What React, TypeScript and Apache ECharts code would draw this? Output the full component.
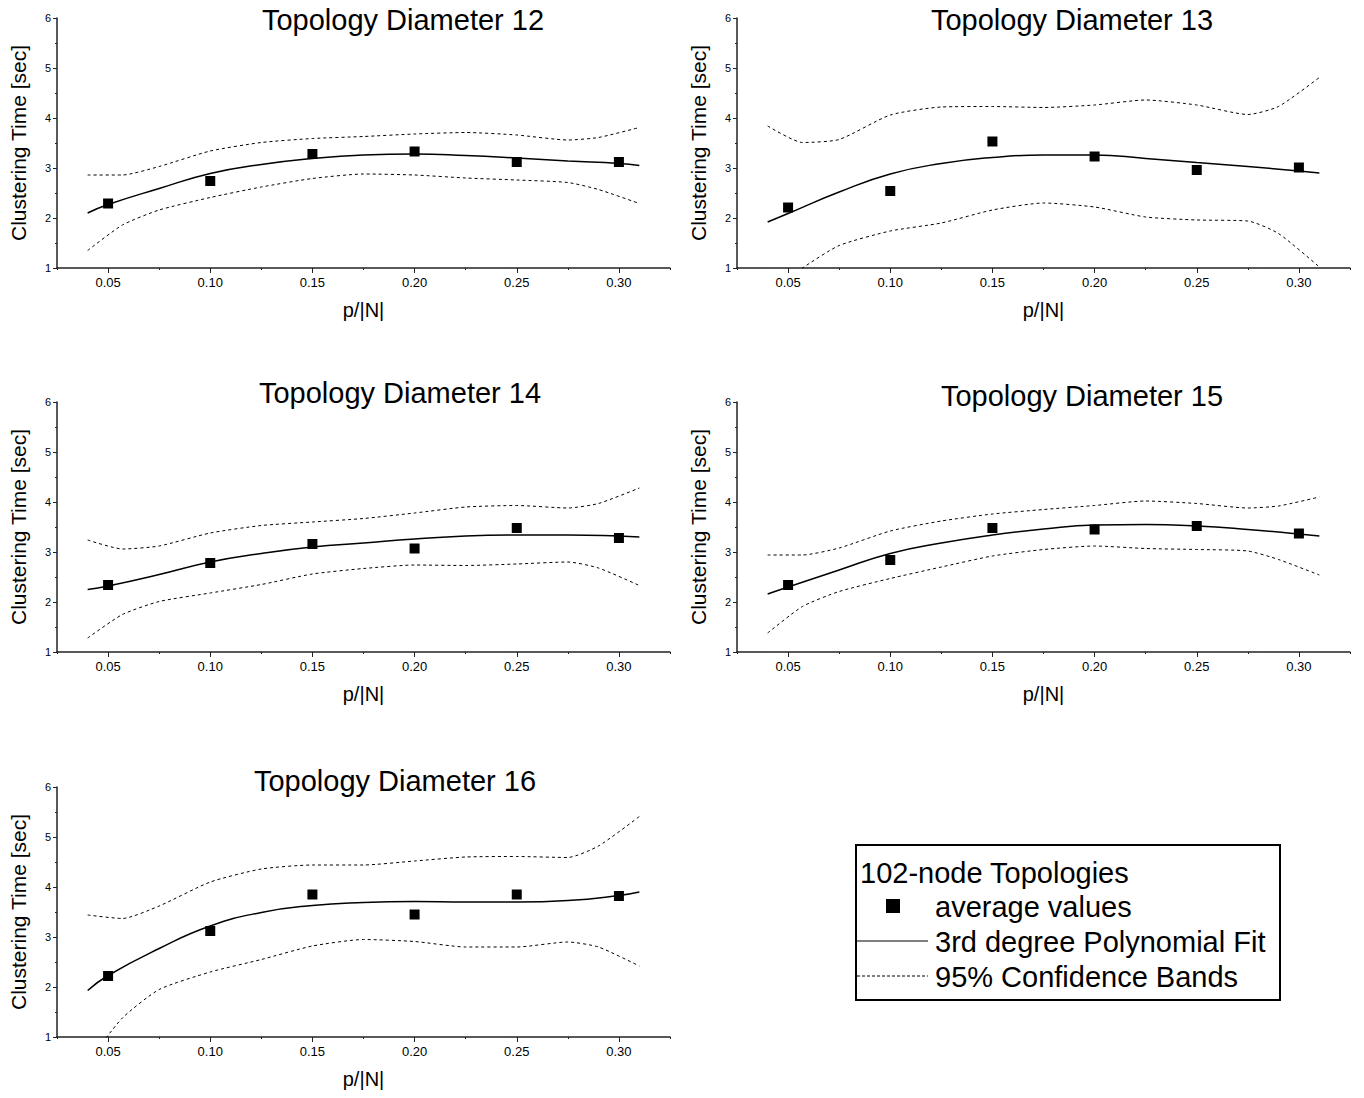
import React, { useEffect, useRef } from "react";
import * as echarts from "echarts";

// ---- data ----
const xPoints = [0.05, 0.1, 0.15, 0.2, 0.25, 0.3];
const fitX = [0.04, 0.05, 0.075, 0.1, 0.125, 0.15, 0.175, 0.2, 0.225, 0.25, 0.275, 0.3, 0.31];
const bandX = [0.04, 0.057, 0.075, 0.1, 0.125, 0.15, 0.175, 0.2, 0.225, 0.25, 0.275, 0.29, 0.31];
const xTickValues = [0.05, 0.1, 0.15, 0.2, 0.25, 0.3];

const titles = [
  "Topology Diameter 12",
  "Topology Diameter 13",
  "Topology Diameter 14",
  "Topology Diameter 15",
  "Topology Diameter 16",
];

const avg12 = [2.29, 2.74, 3.28, 3.33, 3.12, 3.12];
const fit12 = [2.1, 2.27, 2.59, 2.89, 3.07, 3.19, 3.26, 3.28, 3.25, 3.2, 3.14, 3.09, 3.05];
const upper12 = [2.86, 2.86, 3.03, 3.34, 3.51, 3.59, 3.63, 3.68, 3.71, 3.66, 3.56, 3.61, 3.81];
const lower12 = [1.35, 1.86, 2.16, 2.41, 2.62, 2.79, 2.88, 2.86, 2.8, 2.76, 2.71, 2.57, 2.29];

const avg13 = [2.21, 2.54, 3.53, 3.23, 2.96, 3.01];
const fit13 = [1.92, 2.09, 2.52, 2.88, 3.09, 3.21, 3.26, 3.26, 3.19, 3.11, 3.03, 2.94, 2.9];
const upper13 = [3.84, 3.51, 3.57, 4.06, 4.22, 4.23, 4.21, 4.26, 4.36, 4.26, 4.07, 4.23, 4.81];
const lower13 = [0.5, 1.0, 1.45, 1.74, 1.9, 2.16, 2.3, 2.22, 2.02, 1.96, 1.94, 1.69, 1.02];

const avg14 = [2.34, 2.78, 3.16, 3.07, 3.48, 3.28];
const fit14 = [2.25, 2.32, 2.55, 2.8, 2.97, 3.1, 3.18, 3.26, 3.32, 3.34, 3.34, 3.32, 3.3];
const upper14 = [3.24, 3.06, 3.12, 3.38, 3.53, 3.6, 3.67, 3.78, 3.9, 3.93, 3.88, 3.97, 4.28];
const lower14 = [1.28, 1.75, 2.01, 2.18, 2.35, 2.56, 2.67, 2.74, 2.73, 2.76, 2.8, 2.68, 2.33];

const avg15 = [2.34, 2.84, 3.48, 3.45, 3.52, 3.37];
const fit15 = [2.16, 2.3, 2.64, 2.97, 3.18, 3.34, 3.46, 3.54, 3.55, 3.52, 3.45, 3.36, 3.32];
const upper15 = [2.94, 2.94, 3.08, 3.42, 3.62, 3.76, 3.85, 3.93, 4.02, 3.97, 3.88, 3.92, 4.1];
const lower15 = [1.38, 1.91, 2.21, 2.47, 2.7, 2.92, 3.05, 3.12, 3.07, 3.05, 3.02, 2.85, 2.54];

const avg16 = [2.22, 3.12, 3.85, 3.45, 3.85, 3.82];
const fit16 = [1.93, 2.23, 2.77, 3.22, 3.49, 3.63, 3.69, 3.71, 3.7, 3.7, 3.73, 3.83, 3.9];
const upper16 = [3.44, 3.37, 3.62, 4.1, 4.36, 4.44, 4.44, 4.52, 4.6, 4.61, 4.59, 4.82, 5.41];
const lower16 = [0.5, 1.38, 1.95, 2.3, 2.55, 2.82, 2.95, 2.91, 2.8, 2.8, 2.9, 2.8, 2.42];

const legendTitle = "102-node Topologies";
const legendLabels = ["average values", "3rd degree Polynomial Fit", "95% Confidence Bands"];

const panelData = [
  { avg: avg12, fit: fit12, upper: upper12, lower: lower12 },
  { avg: avg13, fit: fit13, upper: upper13, lower: lower13 },
  { avg: avg14, fit: fit14, upper: upper14, lower: lower14 },
  { avg: avg15, fit: fit15, upper: upper15, lower: lower15 },
  { avg: avg16, fit: fit16, upper: upper16, lower: lower16 },
];

// ---- layout ----
const FONT = "'Liberation Sans', Arial, Helvetica, sans-serif";
const gridPos = [
  [57, 18],
  [737, 18],
  [57, 402],
  [737, 402],
  [57, 787],
];
const titlePos = [
  [403, 20],
  [1072, 20],
  [400, 393],
  [1082, 396],
  [395, 781],
];
const GW = 613;
const GH = 250;

function buildOption() {
  const grid: any[] = [];
  const xAxis: any[] = [];
  const yAxis: any[] = [];
  const series: any[] = [];
  const graphic: any[] = [];
  const axisColor = "#222";

  panelData.forEach((p, i) => {
    grid.push({ left: gridPos[i][0], top: gridPos[i][1], width: GW, height: GH, containLabel: false });
    xAxis.push({
      type: "value",
      gridIndex: i,
      min: 0.025,
      max: 0.325,
      position: "bottom",
      axisLine: { show: true, onZero: false, lineStyle: { color: axisColor, width: 1.5 } },
      axisTick: { show: true, length: 5, customValues: xTickValues, lineStyle: { color: axisColor, width: 1 } },
      axisLabel: {
        customValues: xTickValues,
        formatter: (v: number) => v.toFixed(2),
        fontSize: 13,
        color: "#000",
        fontFamily: FONT,
        margin: 8,
      },
      splitLine: { show: false },
      name: "p/|N|",
      nameLocation: "middle",
      nameGap: 32,
      nameTextStyle: { fontSize: 20, color: "#000", fontFamily: FONT },
    });
    xAxis.push({
      type: "value",
      gridIndex: i,
      min: 0.025,
      max: 0.325,
      interval: 0.05,
      position: "bottom",
      axisLine: { show: false, onZero: false },
      axisTick: { show: true, length: 2, lineStyle: { color: axisColor, width: 1 } },
      axisLabel: { show: false },
      splitLine: { show: false },
    });
    yAxis.push({
      type: "value",
      gridIndex: i,
      min: 1,
      max: 6,
      interval: 1,
      axisLine: { show: true, onZero: false, lineStyle: { color: axisColor, width: 1.5 } },
      axisTick: { show: true, length: 4, lineStyle: { color: axisColor, width: 1 } },
      minorTick: { show: true, splitNumber: 2, length: 2, lineStyle: { color: axisColor, width: 1 } },
      axisLabel: { fontSize: 11, color: "#000", fontFamily: FONT, margin: 6 },
      splitLine: { show: false },
      minorSplitLine: { show: false },
      name: "Clustering Time [sec]",
      nameLocation: "middle",
      nameGap: 28,
      nameTextStyle: { fontSize: 21, color: "#000", fontFamily: FONT },
    });

    const xi = i * 2;
    series.push({
      type: "line",
      xAxisIndex: xi,
      yAxisIndex: i,
      data: bandX.map((x, j) => [x, p.upper[j]]),
      showSymbol: false,
      symbol: "none",
      smooth: 0.2,
      clip: true,
      lineStyle: { color: "#000", width: 1, type: [3, 3] },
    });
    series.push({
      type: "line",
      xAxisIndex: xi,
      yAxisIndex: i,
      data: bandX.map((x, j) => [x, p.lower[j]]),
      showSymbol: false,
      symbol: "none",
      smooth: 0.2,
      clip: true,
      lineStyle: { color: "#000", width: 1, type: [3, 3] },
    });
    series.push({
      type: "line",
      xAxisIndex: xi,
      yAxisIndex: i,
      data: fitX.map((x, j) => [x, p.fit[j]]),
      showSymbol: false,
      symbol: "none",
      smooth: true,
      clip: true,
      lineStyle: { color: "#000", width: 1.5 },
    });
    series.push({
      type: "scatter",
      xAxisIndex: xi,
      yAxisIndex: i,
      data: xPoints.map((x, j) => [x, p.avg[j]]),
      symbol: "rect",
      symbolSize: 10,
      itemStyle: { color: "#000", opacity: 1 },
      z: 5,
    });

    graphic.push({
      type: "text",
      x: titlePos[i][0],
      y: titlePos[i][1],
      style: {
        text: titles[i],
        fontSize: 29,
        fontFamily: FONT,
        fill: "#000",
        textAlign: "center",
        textVerticalAlign: "middle",
      },
    });
  });

  // legend box
  graphic.push({
    type: "rect",
    shape: { x: 856, y: 845, width: 424, height: 155 },
    style: { fill: "#fff", stroke: "#000", lineWidth: 2 },
  });
  graphic.push({
    type: "text",
    x: 860,
    y: 873,
    style: { text: legendTitle, fontSize: 29, fontFamily: FONT, fill: "#000", textVerticalAlign: "middle" },
  });
  graphic.push({
    type: "rect",
    shape: { x: 886, y: 899, width: 14, height: 14 },
    style: { fill: "#000" },
  });
  graphic.push({
    type: "line",
    shape: { x1: 857, y1: 941, x2: 928, y2: 941 },
    style: { stroke: "#000", lineWidth: 1 },
  });
  graphic.push({
    type: "line",
    shape: { x1: 857, y1: 976, x2: 928, y2: 976 },
    style: { stroke: "#000", lineWidth: 1, lineDash: [3, 2] },
  });
  const rowY = [907, 942, 977];
  legendLabels.forEach((t, k) => {
    graphic.push({
      type: "text",
      x: 935,
      y: rowY[k],
      style: { text: t, fontSize: 29, fontFamily: FONT, fill: "#000", textVerticalAlign: "middle" },
    });
  });

  return {
    animation: false,
    backgroundColor: "#fff",
    textStyle: { fontFamily: FONT },
    grid,
    xAxis,
    yAxis,
    series,
    graphic,
  };
}

export default function App() {
  const ref = useRef<HTMLDivElement>(null);
  useEffect(() => {
    if (!ref.current) return;
    const chart = echarts.init(ref.current, undefined, { renderer: "svg" });
    chart.setOption(buildOption() as any);
    return () => chart.dispose();
  }, []);
  return (
    <div
      ref={ref}
      style={{ position: "fixed", left: 0, top: 0, width: 1364, height: 1098, background: "#fff" }}
    />
  );
}
